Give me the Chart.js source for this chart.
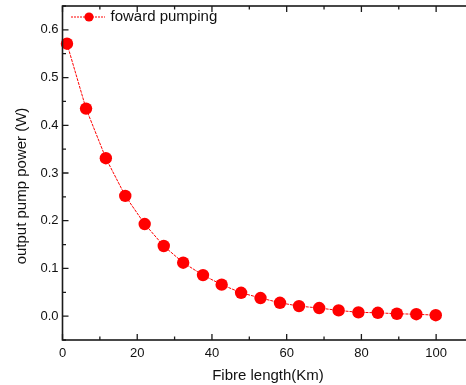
<!DOCTYPE html>
<html>
<head>
<meta charset="utf-8">
<script src="https://cdn.jsdelivr.net/npm/chart.js@4/dist/chart.umd.min.js"></script>
<style>
html,body{margin:0;padding:0;background:#fff;overflow:hidden;}
canvas{display:block;}
</style>
</head>
<body>
<canvas id="c" width="472" height="385" style="width:472px;height:385px;"></canvas>
<script>
// ---- data ----
const fibreLength = [1.2, 6.3, 11.6, 16.8, 22.0, 27.1, 32.3, 37.6, 42.6, 47.8, 53.0, 58.2, 63.3, 68.7, 73.9, 79.2, 84.4, 89.5, 94.7, 99.9];
const pumpPower   = [0.571, 0.435, 0.331, 0.252, 0.193, 0.147, 0.112, 0.086, 0.066, 0.049, 0.038, 0.028, 0.021, 0.017, 0.012, 0.008, 0.007, 0.005, 0.004, 0.002];
const seriesName = 'foward pumping';
const xTicks = [0, 20, 40, 60, 80, 100];
const xMinorTicks = [10, 30, 50, 70, 90, 110];
const yTicks = [0.0, 0.1, 0.2, 0.3, 0.4, 0.5, 0.6];
const yMinorTicks = [-0.05, 0.05, 0.15, 0.25, 0.35, 0.45, 0.55, 0.65];
const xTitle = 'Fibre length(Km)';
const yTitle = 'output pump power (W)';

const RED = '#ff0000';
const AXIS = '#1a1a1a';
const FONT = "'Liberation Sans', Arial, sans-serif";

const framePlugin = {
  id: 'frame',
  afterDatasetsDraw(chart) {
    const ctx = chart.ctx, a = chart.chartArea;
    const xs = chart.scales.x, ys = chart.scales.y;
    ctx.save();
    ctx.strokeStyle = AXIS;
    ctx.lineWidth = 1.6;
    ctx.strokeRect(a.left, a.top, a.right - a.left, a.bottom - a.top);
    ctx.lineWidth = 1.3;
    ctx.beginPath();
    const tick = (vals, len) => {
      vals.forEach(v => {
        const px = xs.getPixelForValue(v);
        if (px < a.left - 1 || px > a.right + 1) return;
        ctx.moveTo(px, a.bottom); ctx.lineTo(px, a.bottom - len);
        ctx.moveTo(px, a.top); ctx.lineTo(px, a.top + len);
      });
    };
    tick(xTicks, 6); tick(xMinorTicks, 3.5);
    const ytick = (vals, len) => {
      vals.forEach(v => {
        const py = ys.getPixelForValue(v);
        if (py < a.top - 1 || py > a.bottom + 1) return;
        ctx.moveTo(a.left, py); ctx.lineTo(a.left + len, py);
      });
    };
    ytick(yTicks, 6); ytick(yMinorTicks, 3.5);
    ctx.stroke();

    // axis titles
    ctx.fillStyle = '#111';
    ctx.font = '15px ' + FONT;
    ctx.textAlign = 'center';
    ctx.textBaseline = 'middle';
    ctx.fillText(xTitle, 268, 376);
    ctx.save();
    ctx.translate(22, 186);
    ctx.rotate(-Math.PI / 2);
    ctx.fillText(yTitle, 0, 0);
    ctx.restore();

    // legend
    const ds = chart.data.datasets[0];
    const ly = 17;
    ctx.strokeStyle = ds.borderColor;
    ctx.lineWidth = 1;
    ctx.setLineDash([2, 1]);
    ctx.beginPath(); ctx.moveTo(71, ly); ctx.lineTo(105, ly); ctx.stroke();
    ctx.setLineDash([]);
    ctx.fillStyle = ds.pointBackgroundColor;
    ctx.beginPath(); ctx.arc(89, ly, 4.6, 0, Math.PI * 2); ctx.fill();
    ctx.fillStyle = '#111';
    ctx.textAlign = 'left';
    ctx.fillText(ds.label, 110.5, ly);
    ctx.restore();
  }
};

const noPad = s => { s.paddingTop = 0; s.paddingBottom = 0; s.paddingLeft = 0; s.paddingRight = 0; };

new Chart(document.getElementById('c'), {
  type: 'line',
  data: {
    datasets: [{
      label: seriesName,
      data: fibreLength.map((x, i) => ({ x: x, y: pumpPower[i] })),
      borderColor: RED,
      borderWidth: 1,
      borderDash: [3, 1],
      pointRadius: 6.2,
      pointBackgroundColor: RED,
      pointBorderColor: RED,
      pointBorderWidth: 0,
      tension: 0,
      clip: false
    }]
  },
  options: {
    responsive: false,
    animation: false,
    devicePixelRatio: 1,
    events: [],
    layout: { autoPadding: false, padding: { top: 6, right: 0, left: 0, bottom: 0 } },
    plugins: { legend: { display: false }, tooltip: { enabled: false } },
    scales: {
      x: {
        type: 'linear', min: 0, max: 109.6,
        grid: { display: false, drawTicks: false },
        border: { display: false },
        afterBuildTicks: s => { s.ticks = xTicks.map(v => ({ value: v })); },
        afterFit: s => { s.height = 45; noPad(s); },
        ticks: { color: '#111', font: { family: FONT, size: 13 }, padding: 6, maxRotation: 0,
                 callback: v => String(v) }
      },
      y: {
        type: 'linear', min: -0.05, max: 0.65,
        grid: { display: false, drawTicks: false },
        border: { display: false },
        afterBuildTicks: s => { s.ticks = yTicks.map(v => ({ value: v })); },
        afterFit: s => { s.width = 62.5; noPad(s); },
        ticks: { color: '#111', font: { family: FONT, size: 13 }, padding: 4,
                 callback: v => Number(v).toFixed(1) }
      }
    }
  },
  plugins: [framePlugin]
});
</script>
</body>
</html>
